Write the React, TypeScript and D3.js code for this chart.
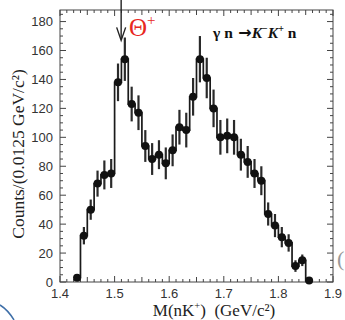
import React from "react";
import * as d3 from "d3";

// nK+ invariant mass histogram, 0.0125 GeV bins
const BIN_W = 0.0125;
const FIRST_BIN_LOW = 1.425;

const counts = [
  3, 32, 50, 68, 74, 75, 138, 154, 123, 117, 94, 85, 88, 82, 91, 107, 105, 128,
  154, 141, 120, 100, 101, 100, 88, 83, 75, 70, 47, 39, 31, 27, 11, 15, 1,
];
const errors = [
  0, 6, 7, 9, 10, 10, 13, 15, 12, 12, 11, 11, 10, 11, 11, 12, 12, 13,
  16, 14, 13, 12, 12, 12, 11, 11, 10, 10, 8, 8, 7, 6, 4, 4, 0,
];

const xTicks = [1.4, 1.5, 1.6, 1.7, 1.8, 1.9];
const yTicks = [0, 20, 40, 60, 80, 100, 120, 140, 160, 180];
const thetaMass = 1.512;

const W = 345;
const H = 320;
const m = { left: 60, right: 12, top: 10, bottom: 38 };

const App: React.FC = () => {
  const x = d3.scaleLinear().domain([1.4, 1.9]).range([m.left, W - m.right]);
  const y = d3.scaleLinear().domain([0, 188]).range([H - m.bottom, m.top]);

  const bins = counts.map((c, i) => {
    const lo = FIRST_BIN_LOW + i * BIN_W;
    return { lo, hi: lo + BIN_W, mid: lo + BIN_W / 2, c, e: errors[i] };
  });

  // histogram outline: flat top per bin, verticals at the edges
  const outline: [number, number][] = [];
  bins.forEach((b) => {
    outline.push([b.lo, b.c]);
    outline.push([b.hi, b.c]);
  });
  const line = d3
    .line<[number, number]>()
    .x((d) => x(d[0]))
    .y((d) => y(d[1]));

  const x0 = x.range()[0];
  const x1 = x.range()[1];
  const y0 = y.range()[0];
  const y1 = y.range()[1];

  const xMinor = d3.range(1.4, 1.9001, BIN_W);
  const yMinor = d3.range(0, 188, 5);

  const tickCol = "#333";
  const serif = "'Liberation Serif', 'DejaVu Serif', serif";
  const sans = "'Liberation Sans', Arial, sans-serif";

  return (
    <svg
      width={W}
      height={H}
      style={{ position: "absolute", left: 0, top: 0, background: "#fff" }}
    >
      {/* frame */}
      <rect
        x={x0}
        y={y1}
        width={x1 - x0}
        height={y0 - y1}
        fill="none"
        stroke="#444"
        strokeWidth={1}
      />

      {/* x ticks, bottom and top, inward */}
      {xMinor.map((v, i) => {
        const len = i % 8 === 0 ? 6 : i % 4 === 0 ? 5 : 3;
        return (
          <g key={"xt" + i} stroke="#444" strokeWidth={1}>
            <line x1={x(v)} x2={x(v)} y1={y0} y2={y0 - len} />
            <line x1={x(v)} x2={x(v)} y1={y1} y2={y1 + len} />
          </g>
        );
      })}
      {/* y ticks, left and right, inward */}
      {yMinor.map((v, i) => {
        const len = i % 4 === 0 ? 6 : 3;
        return (
          <g key={"yt" + i} stroke="#444" strokeWidth={1}>
            <line x1={x0} x2={x0 + len} y1={y(v)} y2={y(v)} />
            <line x1={x1} x2={x1 - len} y1={y(v)} y2={y(v)} />
          </g>
        );
      })}

      {xTicks.map((t) => (
        <text
          key={"xl" + t}
          x={x(t)}
          y={y0 + 15.5}
          textAnchor="middle"
          fontFamily={sans}
          fontSize={13}
          fill={tickCol}
        >
          {t.toFixed(1)}
        </text>
      ))}
      {yTicks.map((t) => (
        <text
          key={"yl" + t}
          x={x0 - 7}
          y={y(t) + 4.5}
          textAnchor="end"
          fontFamily={sans}
          fontSize={13}
          fill={tickCol}
        >
          {t}
        </text>
      ))}

      {/* histogram */}
      <path d={line(outline) || ""} fill="none" stroke="#1a1a1a" strokeWidth={1.7} />

      {/* error bars */}
      {bins
        .filter((b) => b.e > 0)
        .map((b, i) => (
          <line
            key={"eb" + i}
            x1={x(b.mid)}
            x2={x(b.mid)}
            y1={y(b.c - b.e)}
            y2={y(b.c + b.e)}
            stroke="#2a2a2a"
            strokeWidth={2.2}
          />
        ))}

      {/* points */}
      {bins.map((b, i) => (
        <circle key={"pt" + i} cx={x(b.mid)} cy={y(b.c)} r={4} fill="#111" />
      ))}

      {/* Theta+ arrow */}
      <line
        x1={x(thetaMass)}
        x2={x(thetaMass)}
        y1={0}
        y2={y(168)}
        stroke="#222"
        strokeWidth={1.4}
      />
      <path
        d={`M${x(thetaMass) - 4.5},${y(176)} L${x(thetaMass)},${y(167)} L${x(thetaMass) + 4.5},${y(176)}`}
        fill="none"
        stroke="#222"
        strokeWidth={1.4}
      />
      <text x={129} y={36} fontFamily={serif} fontSize={25} fill="#e8281e">
        Θ
        <tspan fontSize={15} dy={-11}>
          +
        </tspan>
      </text>

      {/* reaction */}
      <text
        x={213}
        y={38}
        fontFamily={serif}
        fontSize={15.5}
        fontWeight="bold"
        fill="#111"
      >
        γ n
        <tspan fontFamily="'DejaVu Sans', sans-serif" fontSize={16}>
          {" "}→
        </tspan>
        <tspan fontStyle="italic">K</tspan>
        <tspan fontSize={10} dy={-6}>
          −
        </tspan>
        <tspan fontStyle="italic" dy={6}>
          K
        </tspan>
        <tspan fontSize={10} dy={-6}>
          +
        </tspan>
        <tspan dy={6}> n</tspan>
      </text>

      {/* axis titles */}
      <text
        transform={`translate(24,${(y0 + y1) / 2 + 8}) rotate(-90)`}
        textAnchor="middle"
        fontFamily={serif}
        fontSize={17.5}
        fill="#222"
      >
        Counts/(0.0125 GeV/c²)
      </text>
      <text
        x={214}
        y={316}
        textAnchor="middle"
        fontFamily={serif}
        fontSize={17}
        fill="#222"
      >
        M(nK
        <tspan fontSize={10.5} dy={-7}>
          +
        </tspan>
        <tspan dy={7}>{")\u00a0\u00a0(GeV/c²)"}</tspan>
      </text>

      {/* slide leftovers at the edges */}
      <path d="M0,305 Q8,310 14,320" fill="none" stroke="#3f6fa8" strokeWidth={1.5} />
      <text x={337} y={266} fontFamily={serif} fontSize={22} fill="#999">
        (
      </text>
    </svg>
  );
};

export default App;
